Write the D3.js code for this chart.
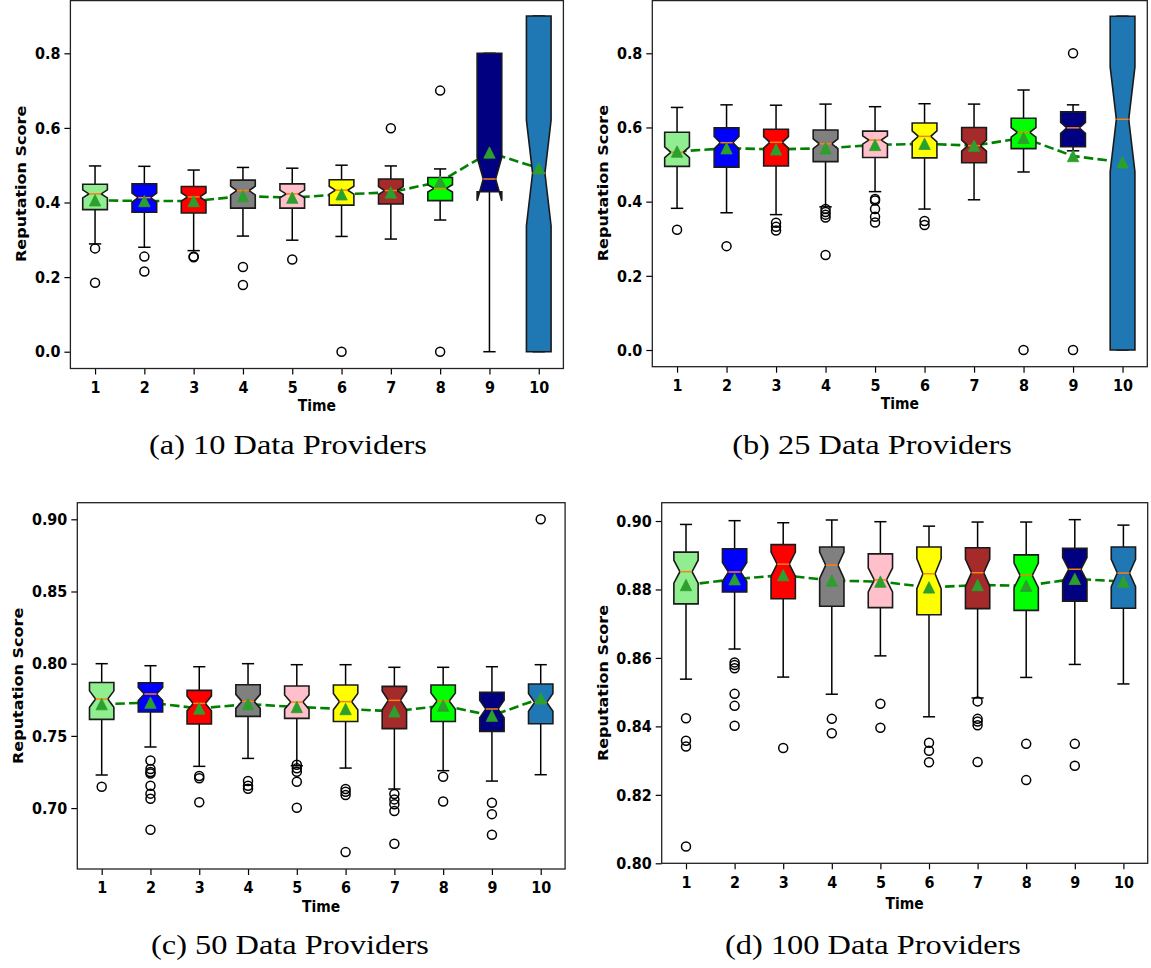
<!DOCTYPE html>
<html>
<head>
<meta charset="utf-8">
<script src="https://cdn.jsdelivr.net/npm/d3@7"></script>
<style>
  body { margin: 0; background: #ffffff; }
  svg { display: block; }
</style>
</head>
<body>
<svg id="fig" width="1151" height="968"></svg>
<script>
// ---- shared categories and styling lists ----
const timeSteps = [1, 2, 3, 4, 5, 6, 7, 8, 9, 10];
const boxColors = ["#90ee90", "#0000ff", "#ff0000", "#808080", "#ffc0cb",
                   "#ffff00", "#a52a2a", "#00ff00", "#000080", "#1f77b4"];

// ---- (a) 10 data providers ----
const p10WhiskerHi = [0.498, 0.497, 0.487, 0.494, 0.492, 0.500, 0.498, 0.490, 0.800, 0.900];
const p10Q3        = [0.449, 0.450, 0.443, 0.460, 0.450, 0.461, 0.463, 0.467, 0.800, 0.900];
const p10Median    = [0.423, 0.413, 0.415, 0.432, 0.423, 0.433, 0.432, 0.438, 0.463, 0.479];
const p10Q1        = [0.381, 0.374, 0.372, 0.385, 0.385, 0.393, 0.396, 0.405, 0.429, 0.000];
const p10WhiskerLo = [0.289, 0.280, 0.271, 0.310, 0.299, 0.309, 0.302, 0.353, 0.000, 0.000];
const p10Mean      = [0.406, 0.404, 0.404, 0.417, 0.413, 0.422, 0.427, 0.456, 0.534, 0.492];
const p10Outliers  = [[0.277, 0.185], [0.255, 0.215], [0.255, 0.253], [0.227, 0.179], [0.247],
                      [0.0], [0.599], [0.700, 0.0], [], []];
const p10Ticks     = [0.0, 0.2, 0.4, 0.6, 0.8];

// ---- (b) 25 data providers ----
const p25WhiskerHi = [0.654, 0.661, 0.660, 0.663, 0.656, 0.664, 0.663, 0.701, 0.661, 0.900];
const p25Q3        = [0.587, 0.599, 0.595, 0.593, 0.590, 0.612, 0.600, 0.625, 0.642, 0.900];
const p25Median    = [0.533, 0.559, 0.560, 0.556, 0.566, 0.576, 0.551, 0.587, 0.599, 0.622];
const p25Q1        = [0.495, 0.493, 0.496, 0.508, 0.519, 0.518, 0.505, 0.543, 0.548, 0.000];
const p25WhiskerLo = [0.382, 0.370, 0.365, 0.386, 0.427, 0.380, 0.405, 0.480, 0.537, 0.000];
const p25Mean      = [0.535, 0.544, 0.541, 0.544, 0.553, 0.556, 0.551, 0.572, 0.523, 0.506];
const p25Outliers  = [[0.324], [0.280], [0.343, 0.332, 0.322], [0.380, 0.372, 0.365, 0.357, 0.256],
                      [0.407, 0.403, 0.380, 0.359, 0.344], [0.348, 0.337], [], [0.0], [0.8, 0.0], []];
const p25Ticks     = [0.0, 0.2, 0.4, 0.6, 0.8];

// ---- (c) 50 data providers ----
const p50WhiskerHi = [0.8000, 0.7986, 0.7979, 0.8000, 0.7993, 0.7993, 0.7975, 0.7975, 0.7979, 0.7993];
const p50Q3        = [0.7870, 0.7868, 0.7815, 0.7854, 0.7845, 0.7852, 0.7843, 0.7852, 0.7801, 0.7859];
const p50Median    = [0.7755, 0.7790, 0.7725, 0.7739, 0.7734, 0.7737, 0.7746, 0.7741, 0.7686, 0.7732];
const p50Q1        = [0.7614, 0.7665, 0.7582, 0.7635, 0.7621, 0.7600, 0.7550, 0.7600, 0.7531, 0.7584];
const p50WhiskerLo = [0.7229, 0.7423, 0.7289, 0.7344, 0.7293, 0.7277, 0.7132, 0.7259, 0.7187, 0.7231];
const p50Mean      = [0.7720, 0.7730, 0.7690, 0.7720, 0.7700, 0.7686, 0.7670, 0.7710, 0.7640, 0.7760];
const p50Outliers  = [[0.7148], [0.733, 0.727, 0.725, 0.724, 0.7155, 0.710, 0.7065, 0.685],
                      [0.7222, 0.7206, 0.704], [0.7187, 0.7155, 0.7134],
                      [0.730, 0.7275, 0.7252, 0.7182, 0.7002], [0.7132, 0.7113, 0.709, 0.6695],
                      [0.7097, 0.706, 0.7026, 0.698, 0.6753], [0.7217, 0.7046],
                      [0.7037, 0.6958, 0.6815], [0.900]];
const p50Ticks     = [0.70, 0.75, 0.80, 0.85, 0.90];

// ---- (d) 100 data providers ----
const p100WhiskerHi = [0.8990, 0.9001, 0.8995, 0.9003, 0.8998, 0.8985, 0.8997, 0.8997, 0.9004, 0.8988];
const p100Q3        = [0.8909, 0.8919, 0.8931, 0.8924, 0.8904, 0.8924, 0.8922, 0.8901, 0.8920, 0.8924];
const p100Median    = [0.8852, 0.8851, 0.8874, 0.8871, 0.8828, 0.8846, 0.8849, 0.8841, 0.8859, 0.8848];
const p100Q1        = [0.8758, 0.8793, 0.8773, 0.8751, 0.8747, 0.8726, 0.8744, 0.8739, 0.8766, 0.8745];
const p100WhiskerLo = [0.8538, 0.8626, 0.8544, 0.8494, 0.8606, 0.8428, 0.8483, 0.8543, 0.8581, 0.8524];
const p100Mean      = [0.8813, 0.8830, 0.8842, 0.8826, 0.8823, 0.8806, 0.8813, 0.8811, 0.8831, 0.8823];
const p100Outliers  = [[0.8424, 0.8358, 0.8341, 0.8049], [0.8587, 0.8579, 0.8570, 0.8495, 0.8460, 0.8402],
                       [0.8337], [0.8422, 0.8380], [0.8466, 0.8396], [0.8352, 0.8329, 0.8295],
                       [0.8473, 0.8422, 0.8414, 0.8403, 0.8296], [0.8349, 0.8243], [0.8349, 0.8285], []];
const p100Ticks     = [0.80, 0.82, 0.84, 0.86, 0.88, 0.90];

// ---- panel layout ----
const panels = [
  { caption: "(a) 10 Data Providers", x0: 70.4, x1: 563.4, y0: -0.8, y1: 368.5,
    yDomain: [-0.045, 0.945], ticks: p10Ticks, fmt: ".1f", n: 100, ylabX: 20, timeDy: 36,
    capX: 288, capY: 454,
    hi: p10WhiskerHi, q3: p10Q3, med: p10Median, q1: p10Q1, lo: p10WhiskerLo, mean: p10Mean, out: p10Outliers },
  { caption: "(b) 25 Data Providers", x0: 652.3, x1: 1147.3, y0: -0.5, y1: 366.7,
    yDomain: [-0.045, 0.945], ticks: p25Ticks, fmt: ".1f", n: 100, ylabX: 601.6, timeDy: 36.5,
    capX: 872, capY: 454,
    hi: p25WhiskerHi, q3: p25Q3, med: p25Median, q1: p25Q1, lo: p25WhiskerLo, mean: p25Mean, out: p25Outliers },
  { caption: "(c) 50 Data Providers", x0: 77.3, x1: 565.1, y0: 502.7, y1: 869,
    yDomain: [0.6578, 0.9115], ticks: p50Ticks, fmt: ".2f", n: 50, ylabX: 16.6, timeDy: 37,
    capX: 290, capY: 954,
    hi: p50WhiskerHi, q3: p50Q3, med: p50Median, q1: p50Q1, lo: p50WhiskerLo, mean: p50Mean, out: p50Outliers },
  { caption: "(d) 100 Data Providers", x0: 661.7, x1: 1147.7, y0: 502.7, y1: 863.3,
    yDomain: [0.8, 0.90535], ticks: p100Ticks, fmt: ".2f", n: 50, ylabX: 601.6, timeDy: 40,
    capX: 873, capY: 954,
    hi: p100WhiskerHi, q3: p100Q3, med: p100Median, q1: p100Q1, lo: p100WhiskerLo, mean: p100Mean, out: p100Outliers }
];

const SX = 0.87;               // horizontal squeeze of the sans labels
const CAP_SX = 1.2;            // horizontal stretch of the serif captions
const svg = d3.select("#fig");
const sansFont = "'DejaVu Sans', sans-serif";

function drawPanel(p) {
  const g = svg.append("g");
  const x = d3.scaleLinear().domain([0.5, 10.5]).range([p.x0, p.x1]);
  const y = d3.scaleLinear().domain(p.yDomain).range([p.y1, p.y0]);
  const hw = (x(1) - x(0.5)) * 0.5;      // box half width (box width = 0.5 step)

  // dashed line through the means (beneath the boxes)
  const meanLine = d3.line().x((d, i) => x(timeSteps[i])).y(d => y(d));
  g.append("path").attr("d", meanLine(p.mean))
    .attr("fill", "none").attr("stroke", "#008000").attr("stroke-width", 2.6)
    .attr("stroke-dasharray", "9.5,4.2");

  timeSteps.forEach((t, i) => {
    const xc = x(t);
    const q1 = p.q1[i], q3 = p.q3[i], md = p.med[i];
    const half = 1.57 * (q3 - q1) / Math.sqrt(p.n);
    const ciLo = md - half, ciHi = md + half;
    const L = xc - hw, R = xc + hw, nl = xc - hw / 2, nr = xc + hw / 2;

    // whiskers
    g.append("line").attr("x1", xc).attr("x2", xc).attr("y1", y(q1)).attr("y2", y(p.lo[i]))
      .attr("stroke", "#000").attr("stroke-width", 1.5);
    g.append("line").attr("x1", xc).attr("x2", xc).attr("y1", y(q3)).attr("y2", y(p.hi[i]))
      .attr("stroke", "#000").attr("stroke-width", 1.5);
    // caps
    [p.lo[i], p.hi[i]].forEach(v => {
      g.append("line").attr("x1", xc - hw / 2).attr("x2", xc + hw / 2)
        .attr("y1", y(v)).attr("y2", y(v)).attr("stroke", "#000").attr("stroke-width", 1.5);
    });

    // notched box
    const path = d3.path();
    path.moveTo(L, y(q1)); path.lineTo(R, y(q1)); path.lineTo(R, y(ciLo));
    path.lineTo(nr, y(md)); path.lineTo(R, y(ciHi)); path.lineTo(R, y(q3));
    path.lineTo(L, y(q3)); path.lineTo(L, y(ciHi)); path.lineTo(nl, y(md));
    path.lineTo(L, y(ciLo)); path.closePath();
    g.append("path").attr("d", path.toString())
      .attr("fill", boxColors[i]).attr("stroke", "#1a1a1a").attr("stroke-width", 1.6)
      .attr("stroke-linejoin", "miter");

    // median
    g.append("line").attr("x1", nl).attr("x2", nr).attr("y1", y(md)).attr("y2", y(md))
      .attr("stroke", "#ff7f0e").attr("stroke-width", 1.5);

    // outliers
    p.out[i].forEach(v => {
      g.append("circle").attr("cx", xc).attr("cy", y(v)).attr("r", 4.5)
        .attr("fill", "none").attr("stroke", "#000").attr("stroke-width", 1.5);
    });

    // mean marker
    const r = 5.7, cy = y(p.mean[i]);
    g.append("path").attr("d", `M${xc},${cy - r}L${xc - r},${cy + r}L${xc + r},${cy + r}Z`)
      .attr("fill", "#2ca02c").attr("stroke", "#2ca02c").attr("stroke-width", 0.8);
  });

  // axes
  const ax = g.append("g").attr("transform", `translate(0,${p.y1})`)
    .call(d3.axisBottom(x).tickValues(timeSteps).tickFormat(d3.format("d"))
      .tickSize(6).tickSizeOuter(0).tickPadding(6.5));
  const ay = g.append("g").attr("transform", `translate(${p.x0},0)`)
    .call(d3.axisLeft(y).tickValues(p.ticks).tickFormat(d3.format(p.fmt))
      .tickSize(6).tickSizeOuter(0));
  [ax, ay].forEach(a => {
    a.select(".domain").remove();
    a.selectAll(".tick line").attr("stroke", "#000").attr("stroke-width", 1.2);
    a.selectAll(".tick text").attr("fill", "#000")
      .style("font-family", sansFont).style("font-weight", "bold").style("font-size", "16.5px");
  });
  ax.selectAll(".tick text").attr("transform", `scale(${SX},1)`);
  ay.selectAll(".tick text").attr("transform", `scale(${SX},1)`).attr("x", -10 / SX);

  // frame
  g.append("rect").attr("x", p.x0).attr("y", Math.max(p.y0, 0.6))
    .attr("width", p.x1 - p.x0).attr("height", p.y1 - Math.max(p.y0, 0.6))
    .attr("fill", "none").attr("stroke", "#222").attr("stroke-width", 1.3);

  // axis titles
  g.append("text")
    .attr("transform", `translate(${(p.x0 + p.x1) / 2},${p.y1 + p.timeDy + 6}) scale(${SX},1)`)
    .attr("text-anchor", "middle").style("font-family", sansFont).style("font-weight", "bold")
    .style("font-size", "16px").text("Time");
  g.append("text")
    .attr("transform", `translate(${p.ylabX + 6},${(p.y0 + p.y1) / 2}) scale(${SX},1) rotate(-90)`)
    .attr("text-anchor", "middle").style("font-family", sansFont).style("font-weight", "bold")
    .style("font-size", "16px").text("Reputation Score");

  // caption
  svg.append("text")
    .attr("transform", `translate(${p.capX},${p.capY}) scale(${CAP_SX},1)`)
    .attr("text-anchor", "middle")
    .style("font-family", "'Liberation Serif', 'DejaVu Serif', serif").style("font-size", "27px")
    .attr("fill", "#000").text(p.caption);
}

panels.forEach(drawPanel);
</script>
</body>
</html>
